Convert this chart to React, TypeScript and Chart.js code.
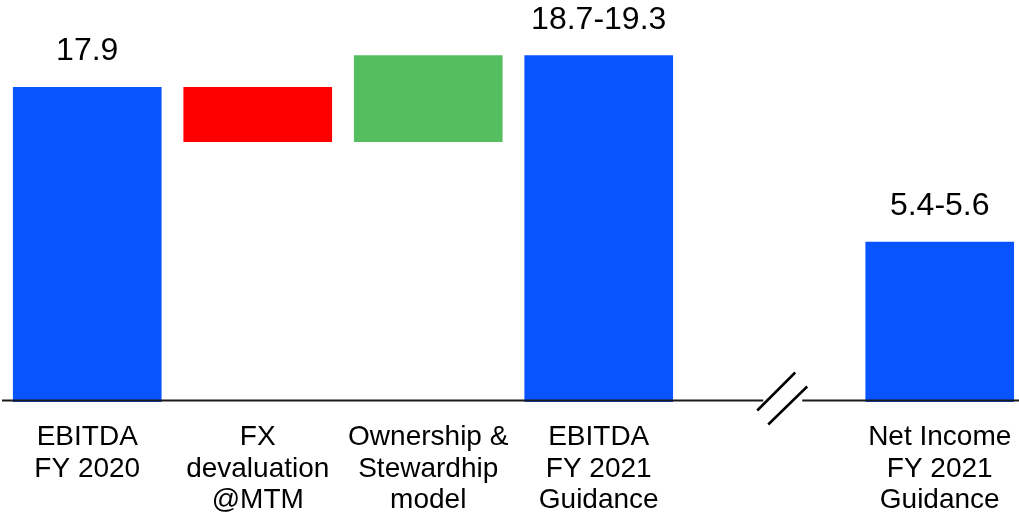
import React, { useEffect, useRef } from "react";
import { Chart, registerables } from "chart.js";

Chart.register(...registerables);

const categories: string[][] = [
  ["EBITDA", "FY 2020"],
  ["FX", "devaluation", "@MTM"],
  ["Ownership &", "Stewardhip", "model"],
  ["EBITDA", "FY 2021", "Guidance"],
  [],
  ["Net Income", "FY 2021", "Guidance"],
];
const lows: (number | null)[] = [0, 14.8, 14.8, 0, null, 0];
const highs: (number | null)[] = [17.9, 17.9, 19.7, 19.7, null, 9.1];
const valueLabels: string[] = ["17.9", "", "", "18.7-19.3", "", "5.4-5.6"];
const barColors: string[] = ["#0855FF", "#FF0000", "#55BF5F", "#0855FF", "#0855FF", "#0855FF"];

const FONT = "'Liberation Sans', Arial, sans-serif";

const labelPlugin = {
  id: "waterfallLabels",
  afterDatasetsDraw(chart: any) {
    const { ctx } = chart;
    const xs = chart.scales.x;
    const ys = chart.scales.y;
    const W = chart.width;
    const baseY = 400.5;
    ctx.save();
    const brk = (xs.getPixelForValue(3) + xs.getPixelForValue(5)) / 2 + 13;
    ctx.strokeStyle = "#1a1a1a";
    ctx.lineWidth = 2;
    ctx.beginPath();
    ctx.moveTo(2, baseY);
    ctx.lineTo(brk - 19, baseY);
    ctx.moveTo(brk + 20, baseY);
    ctx.lineTo(W, baseY);
    ctx.stroke();
    ctx.strokeStyle = "#000";
    ctx.lineWidth = 2.5;
    ctx.beginPath();
    ctx.moveTo(brk - 25, baseY + 10);
    ctx.lineTo(brk + 13, baseY - 28);
    ctx.moveTo(brk - 14, baseY + 24);
    ctx.lineTo(brk + 25, baseY - 14);
    ctx.stroke();

    ctx.fillStyle = "#000";
    ctx.textAlign = "center";
    ctx.textBaseline = "alphabetic";
    categories.forEach((lines, i) => {
      const cx = xs.getPixelForValue(i);
      ctx.font = `28px ${FONT}`;
      lines.forEach((ln, j) => {
        ctx.fillText(ln, cx, 445 + j * 31.5);
      });
      const h = highs[i];
      if (h != null && valueLabels[i]) {
        ctx.font = `32px ${FONT}`;
        ctx.fillText(valueLabels[i], cx, ys.getPixelForValue(h) - 27);
      }
    });
    ctx.restore();
  },
};

export default function App() {
  const ref = useRef<HTMLCanvasElement | null>(null);
  useEffect(() => {
    if (!ref.current) return;
    const idx = categories.map((_, i) => i).filter((i) => lows[i] != null);
    const chart = new Chart(ref.current, {
      type: "bar",
      data: {
        datasets: [
          {
            data: idx.map((i) => ({ x: i, y: [lows[i] as number, highs[i] as number] })) as any,
            backgroundColor: idx.map((i) => barColors[i]),
            borderWidth: 0,
            barThickness: 148,
          },
        ],
      },
      options: {
        animation: false,
        responsive: true,
        maintainAspectRatio: false,
        devicePixelRatio: 1,
        layout: { padding: { left: 2, right: 0, top: 0, bottom: 112 } },
        plugins: { legend: { display: false }, tooltip: { enabled: false } },
        scales: {
          x: { type: "linear", offset: false, min: -0.5, max: 5.465, display: false },
          y: { min: 0, max: 22.86, display: false },
        },
      },
      plugins: [labelPlugin],
    });
    return () => chart.destroy();
  }, []);
  return (
    <div style={{ position: "absolute", left: 0, top: 0, width: 1019, height: 514, background: "#fff" }}>
      <canvas ref={ref} />
    </div>
  );
}
